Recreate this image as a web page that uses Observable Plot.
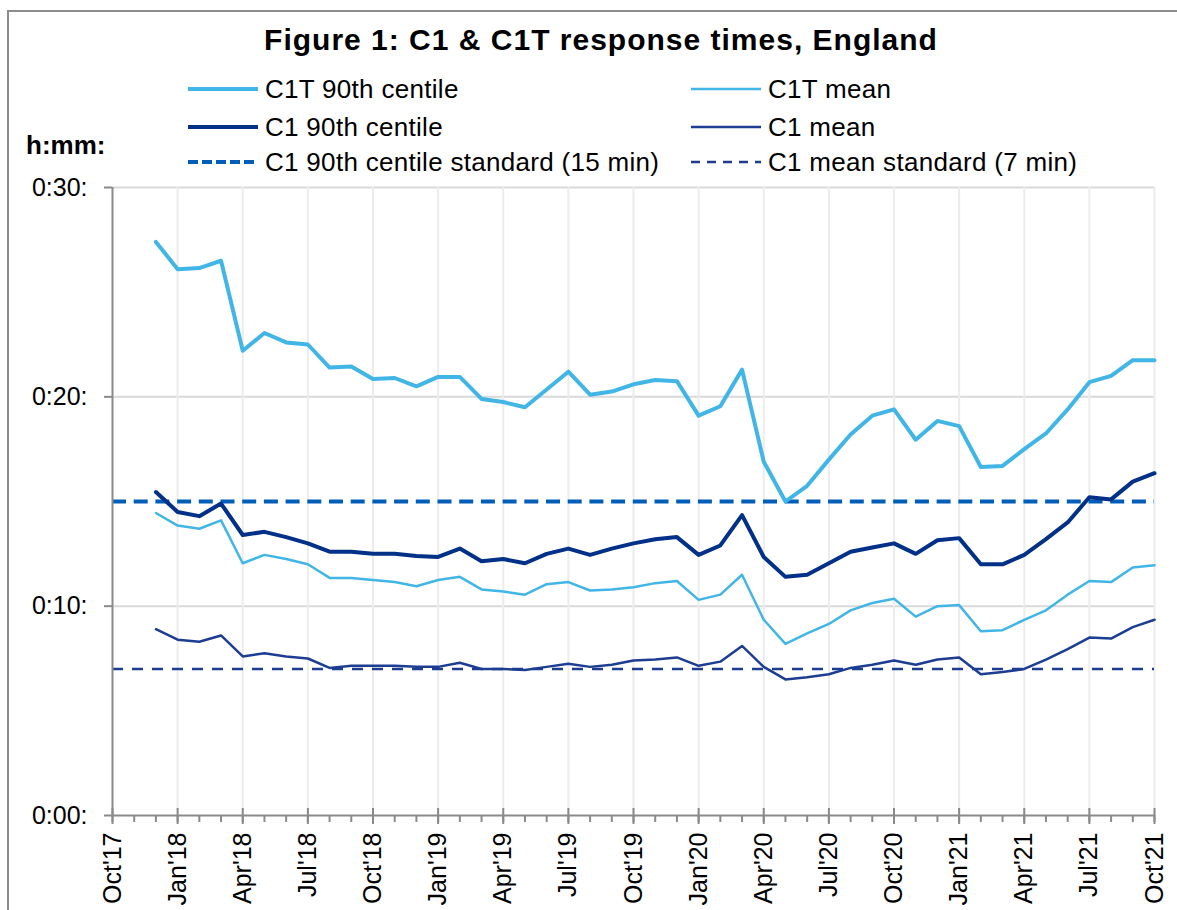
<!DOCTYPE html>
<html>
<head>
<meta charset="utf-8">
<script src="https://cdn.jsdelivr.net/npm/d3@7"></script>
<script src="https://cdn.jsdelivr.net/npm/@observablehq/plot@0.6"></script>
<style>
  body { margin: 0; background: #fff; font-family: "Liberation Sans", Arial, sans-serif; }
  #wrap { position: relative; width: 1177px; height: 910px; overflow: hidden; background: #fff; }
  #frame { position: absolute; left: 7px; top: 10px; width: 1300px; height: 1000px; border-top: 2px solid #8c8c8c; border-left: 2px solid #8c8c8c; }
  #title { position: absolute; left: 0; top: 23px; width: 1202px; text-align: center; font-weight: bold; font-size: 30px; letter-spacing: 1px; color: #000; white-space: nowrap; }
  #unit { position: absolute; left: 26px; top: 130px; font-weight: bold; font-size: 26px; color: #000; }
  .leg { position: absolute; display: flex; align-items: center; font-size: 26px; letter-spacing: 0.3px; color: #000; white-space: nowrap; height: 30px; }
  .leg svg { margin-right: 7px; }
  #chart { position: absolute; left: 0; top: 170px; }
</style>
</head>
<body>
<div id="wrap">
  <div id="frame"></div>
  <div id="title">Figure 1: C1 &amp; C1T response times, England</div>
  <div id="unit">h:mm:</div>
  <div id="legend"></div>
  <div id="chart"></div>
</div>
<script>
// Monthly data, Dec'17 .. Oct'21 (minutes)
const firstMonth = 2; // Dec'17, counted in months from Oct'17
const c1t90 = [27.4, 26.1, 26.15, 26.5, 22.2, 23.05, 22.6, 22.5, 21.4, 21.45, 20.85, 20.9, 20.5,
  20.95, 20.95, 19.9, 19.75, 19.5, 20.35, 21.2, 20.1, 20.25, 20.6, 20.8, 20.75,
  19.1, 19.55, 21.3, 16.9, 15.0, 15.75, 17.0, 18.2, 19.1, 19.4, 17.95, 18.85,
  18.6, 16.65, 16.7, 17.5, 18.25, 19.4, 20.7, 21.0, 21.75, 21.75];
const c1tMean = [14.45, 13.85, 13.7, 14.1, 12.05, 12.45, 12.25, 12.0, 11.35, 11.35, 11.25, 11.15, 10.95,
  11.25, 11.4, 10.8, 10.7, 10.55, 11.05, 11.15, 10.75, 10.8, 10.9, 11.1, 11.2,
  10.3, 10.55, 11.5, 9.35, 8.2, 8.7, 9.15, 9.8, 10.15, 10.35, 9.5, 10.0,
  10.05, 8.8, 8.85, 9.35, 9.8, 10.55, 11.2, 11.15, 11.85, 11.95];
const c190 = [15.45, 14.5, 14.3, 14.9, 13.4, 13.55, 13.3, 13.0, 12.6, 12.6, 12.5, 12.5, 12.4,
  12.35, 12.75, 12.15, 12.25, 12.05, 12.5, 12.75, 12.45, 12.75, 13.0, 13.2, 13.3,
  12.45, 12.9, 14.35, 12.35, 11.4, 11.5, 12.05, 12.6, 12.8, 13.0, 12.5, 13.15,
  13.25, 12.0, 12.0, 12.45, 13.2, 14.0, 15.2, 15.1, 15.95, 16.35];
const c1Mean = [8.9, 8.4, 8.3, 8.6, 7.6, 7.75, 7.6, 7.5, 7.05, 7.15, 7.15, 7.15, 7.1,
  7.1, 7.3, 7.0, 7.0, 6.95, 7.1, 7.25, 7.1, 7.2, 7.4, 7.45, 7.55,
  7.15, 7.35, 8.1, 7.1, 6.5, 6.6, 6.75, 7.05, 7.2, 7.4, 7.2, 7.45,
  7.55, 6.75, 6.85, 7.0, 7.45, 7.95, 8.5, 8.45, 9.0, 9.35];
const std90 = 15;
const stdMean = 7;

const xTickLabels = ["Oct'17","Jan'18","Apr'18","Jul'18","Oct'18","Jan'19","Apr'19","Jul'19","Oct'19",
  "Jan'20","Apr'20","Jul'20","Oct'20","Jan'21","Apr'21","Jul'21","Oct'21"];
const yTicks = [0, 10, 20, 30];
const yTickLabels = ["0:00:", "0:10:", "0:20:", "0:30:"];

const seriesNames = ["C1T 90th centile", "C1T mean", "C1 90th centile", "C1 mean",
  "C1 90th centile standard (15 min)", "C1 mean standard (7 min)"];

const styles = {
  "C1T 90th centile": {stroke: "#41b6e6", strokeWidth: 4},
  "C1T mean": {stroke: "#41b6e6", strokeWidth: 2.5},
  "C1 90th centile": {stroke: "#003087", strokeWidth: 4},
  "C1 mean": {stroke: "#1d3d92", strokeWidth: 2.5},
  "C1 90th centile standard (15 min)": {stroke: "#005eb8", strokeWidth: 4, dash: "14,7.7", legDash: "10,4"},
  "C1 mean standard (7 min)": {stroke: "#1d3d92", strokeWidth: 2.5, dash: "11,9", legDash: "9,7"}
};

const toRows = (vals, name) => vals.map((v, i) => ({month: firstMonth + i, value: v, series: name}));
const rows = [
  ...toRows(c1t90, seriesNames[0]),
  ...toRows(c1tMean, seriesNames[1]),
  ...toRows(c190, seriesNames[2]),
  ...toRows(c1Mean, seriesNames[3])
];

const nMonths = 48;
const majorTicks = xTickLabels.map((_, i) => i * 3);
const allMonths = d3.range(0, nMonths + 1);
const axisGrey = "#8a8a8a";
const font = "'Liberation Sans', Arial, sans-serif";

const lineMark = (name) => Plot.line(rows.filter(r => r.series === name), {
  x: "month", y: "value",
  stroke: styles[name].stroke, strokeWidth: styles[name].strokeWidth,
  strokeLinejoin: "round", curve: "linear"
});

const chart = Plot.plot({
  width: 1177,
  height: 740,
  marginLeft: 112,
  marginRight: 23,
  marginTop: 17,
  marginBottom: 95,
  x: {type: "linear", domain: [0, nMonths]},
  y: {type: "linear", domain: [0, 30]},
  style: {fontFamily: font, color: "#000", background: "transparent", overflow: "visible"},
  marks: [
    Plot.gridY(yTicks.filter(d => d > 0), {stroke: "#d9d9d9", strokeOpacity: 1, strokeWidth: 2}),
    Plot.gridX(majorTicks.filter(d => d > 0), {stroke: "#ececec", strokeOpacity: 1, strokeWidth: 2}),
    Plot.ruleY([std90], {stroke: styles[seriesNames[4]].stroke, strokeWidth: 4, strokeDasharray: styles[seriesNames[4]].dash}),
    Plot.ruleY([stdMean], {stroke: styles[seriesNames[5]].stroke, strokeWidth: 2.5, strokeDasharray: styles[seriesNames[5]].dash}),
    lineMark(seriesNames[0]),
    lineMark(seriesNames[1]),
    lineMark(seriesNames[2]),
    lineMark(seriesNames[3]),
    Plot.ruleX([0], {stroke: axisGrey, strokeWidth: 2}),
    Plot.ruleY([0], {stroke: axisGrey, strokeWidth: 2}),
    Plot.axisY(yTicks, {tickSize: 8, tickPadding: 17, stroke: axisGrey, strokeWidth: 2,
      tickFormat: d => yTickLabels[yTicks.indexOf(d)], fontSize: 25, label: null}),
    Plot.axisX(allMonths, {tickSize: 7, stroke: axisGrey, strokeWidth: 2, fill: "none", label: null}),
    Plot.axisX(majorTicks, {tickSize: 16, dy: -7, stroke: axisGrey, strokeWidth: 2, fill: "none", label: null}),
    Plot.axisX(majorTicks, {tickSize: 0, tickPadding: 17, tickRotate: -90, fontSize: 25,
      tickFormat: d => xTickLabels[d / 3], label: null})
  ]
});
document.getElementById("chart").appendChild(chart);

// Legend (HTML)
const legendPos = [
  {left: 188, top: 74}, {left: 691, top: 74},
  {left: 188, top: 112}, {left: 691, top: 112},
  {left: 188, top: 147}, {left: 691, top: 147}
];
const legend = document.getElementById("legend");
seriesNames.forEach((name, i) => {
  const s = styles[name];
  const div = document.createElement("div");
  div.className = "leg";
  div.style.left = legendPos[i].left + "px";
  div.style.top = legendPos[i].top + "px";
  const w = 70;
  const sw = Math.min(s.strokeWidth, 4);
  div.innerHTML = `<svg width="${w}" height="12"><line x1="0" x2="${w}" y1="6" y2="6" stroke="${s.stroke}" stroke-width="${sw}" ${s.legDash ? `stroke-dasharray="${s.legDash}"` : ""}/></svg><span>${name}</span>`;
  legend.appendChild(div);
});
</script>
</body>
</html>
